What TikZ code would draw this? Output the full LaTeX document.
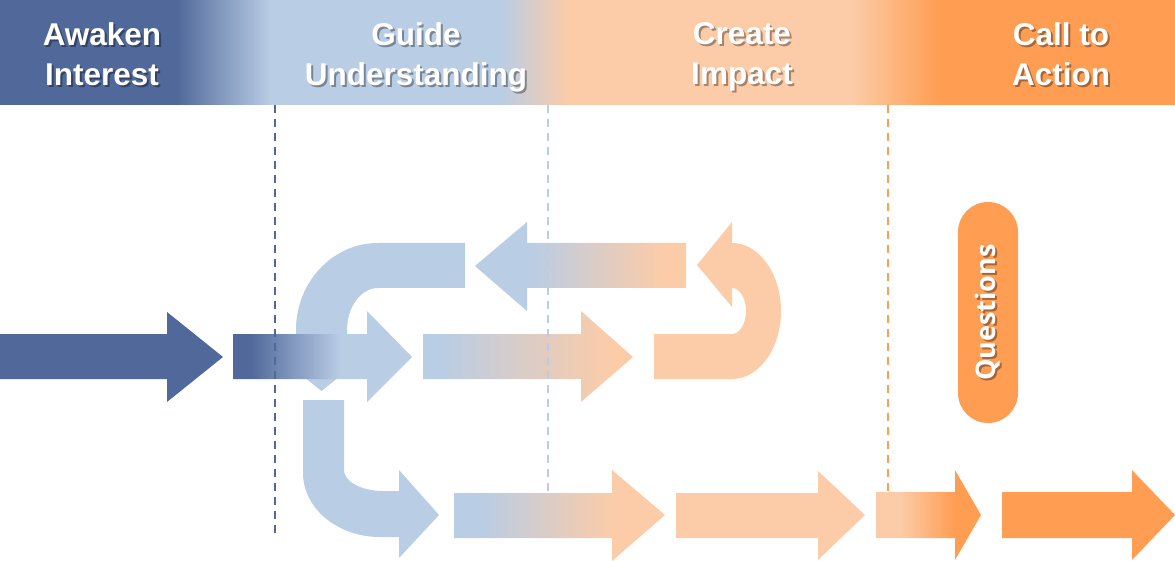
\documentclass[tikz,border=0pt]{standalone}
\usepackage{fontspec}
\newfontfamily\hdrfont{Liberation Sans}
\newfontfamily\qfont{Open Sans}
\definecolor{dkblue}{RGB}{80,104,154}
\definecolor{ltblue}{RGB}{185,205,229}
\definecolor{peach}{RGB}{252,204,168}
\definecolor{orng}{RGB}{255,157,82}
% horizontal fades, 25bp..75bp is the filled box
\pgfdeclarehorizontalshading{bandshade}{100bp}{color(0bp)=(dkblue); color(32.5bp)=(dkblue); color(36.5bp)=(ltblue); color(46.3bp)=(ltblue); color(49.2bp)=(peach); color(61.2bp)=(peach); color(65bp)=(orng); color(100bp)=(orng)}
\pgfdeclarehorizontalshading{twoshade}{100bp}{color(0bp)=(dkblue); color(29.7bp)=(dkblue); color(55bp)=(ltblue); color(100bp)=(ltblue)}
\pgfdeclarehorizontalshading{threeshade}{100bp}{color(0bp)=(ltblue); color(29bp)=(ltblue); color(69.5bp)=(peach); color(100bp)=(peach)}
\pgfdeclarehorizontalshading{backshade}{100bp}{color(0bp)=(ltblue); color(37.3bp)=(ltblue); color(69.5bp)=(peach); color(100bp)=(peach)}
\pgfdeclarehorizontalshading{lowshade}{100bp}{color(0bp)=(ltblue); color(31bp)=(ltblue); color(62.7bp)=(peach); color(100bp)=(peach)}
\pgfdeclarehorizontalshading{lastshade}{100bp}{color(0bp)=(peach); color(36.4bp)=(peach); color(62.6bp)=(orng); color(100bp)=(orng)}

\begin{document}
\begin{tikzpicture}[x=1pt,y=-1pt]
\tikzset{hdr/.style={font=\hdrfont\fontsize{31.5}{40}\selectfont\bfseries, text=white, align=center, anchor=north, inner sep=0pt}}
\tikzset{hdrshade/.style={hdr, text=black, opacity=0.35}}
\tikzset{dashline/.style={line width=2pt, dash pattern=on 8pt off 6pt}}
\tikzset{pill/.style={fill=orng, rounded corners=30pt, minimum width=60pt, minimum height=221pt, inner sep=0pt}}
\tikzset{qtext/.style={font=\qfont\fontsize{27}{30}\selectfont\bfseries, text=white, inner sep=0pt}}

\useasboundingbox (0,0) rectangle (1175,561);

% phase band
\shade[shading=bandshade] (0,0) rectangle (1175,105);
\foreach \cx/\txt/\nm in {102/{Awaken\\Interest}/awaken, 416/{Guide\\Understanding}/guide, 742/{Create\\Impact}/impact, 1061/{Call to\\Action}/action}{
  \node[hdrshade] at (\cx+2,24) {\txt};
  \node[hdr] (\nm) at (\cx,22) {\txt};
}

% loop back, top left
\fill[ltblue] (465,243) -- (378,243) .. controls (332.7,243) and (296,282) .. (296,330)
  -- (296,355) -- (276.5,355) -- (321.5,391) -- (366.5,355) -- (347,355) -- (347,330)
  .. controls (347,306.8) and (360.9,288) .. (378,288) -- (465,288) -- cycle;
% back arrow
\shade[shading=backshade] (686,243) -- (527,243) -- (527,222) -- (475,266) -- (527,311) -- (527,288) -- (686,288) -- cycle;

% middle row
\fill[dkblue] (0,334) -- (167,334) -- (167,312) -- (223,357) -- (167,402) -- (167,379) -- (0,379) -- cycle;
\shade[shading=twoshade] (233,334) -- (367,334) -- (367,311) -- (412,357) -- (367,402) -- (367,379) -- (233,379) -- cycle;
\shade[shading=threeshade] (423,334) -- (581,334) -- (581,311) -- (633,357) -- (581,402) -- (581,379) -- (423,379) -- cycle;
% u-turn
\fill[peach] (654,334) -- (732,334) .. controls (739.7,334) and (746,323.7) .. (746,311)
  .. controls (746,298.3) and (739.7,288) .. (732,288) -- (732,307) -- (697,265) -- (732,222) -- (732,243)
  .. controls (759,243) and (781,273.5) .. (781,311) .. controls (781,348.5) and (759,379) .. (732,379)
  -- (654,379) -- cycle;

% bottom row
\fill[ltblue] (303,400) -- (303,473) .. controls (303,508.3) and (337.5,537) .. (380,537)
  -- (399,537) -- (399,558) -- (439,515) -- (399,470) -- (399,491) -- (383,491)
  .. controls (361.5,491) and (344,481.6) .. (344,470) -- (344,400) -- cycle;
\shade[shading=lowshade] (454,493) -- (612,493) -- (612,470) -- (665,515) -- (612,561) -- (612,538) -- (454,538) -- cycle;
\fill[peach] (676,493) -- (818,493) -- (818,471) -- (865,515) -- (818,560) -- (818,538) -- (676,538) -- cycle;
\shade[shading=lastshade] (876,492) -- (955,492) -- (955,470) -- (981,515) -- (955,560) -- (955,538) -- (876,538) -- cycle;
\fill[orng] (1002,492) -- (1132,492) -- (1132,470) -- (1175,515) -- (1132,560) -- (1132,538) -- (1002,538) -- cycle;

% phase borders
\coordinate (b1top) at (275,105);
\coordinate (b1end) at (275,535);
\coordinate (b2top) at (548,105);
\coordinate (b2end) at (548,492);
\coordinate (b3top) at (888,105);
\coordinate (b3end) at (888,492);
\draw[dashline, dkblue] (b1top) -- (b1end);
\draw[dashline, ltblue] (b2top) -- (b2end);
\draw[dashline, orng] (b3top) -- (b3end);

% questions
\node[pill] (questions) at (988,312.5) {};
\node[qtext, text=black, opacity=0.35, rotate=90] at (990,314.5) {Questions};
\node[qtext, rotate=90] (qlabel) at (questions.center) {Questions};
\end{tikzpicture}
\end{document}
